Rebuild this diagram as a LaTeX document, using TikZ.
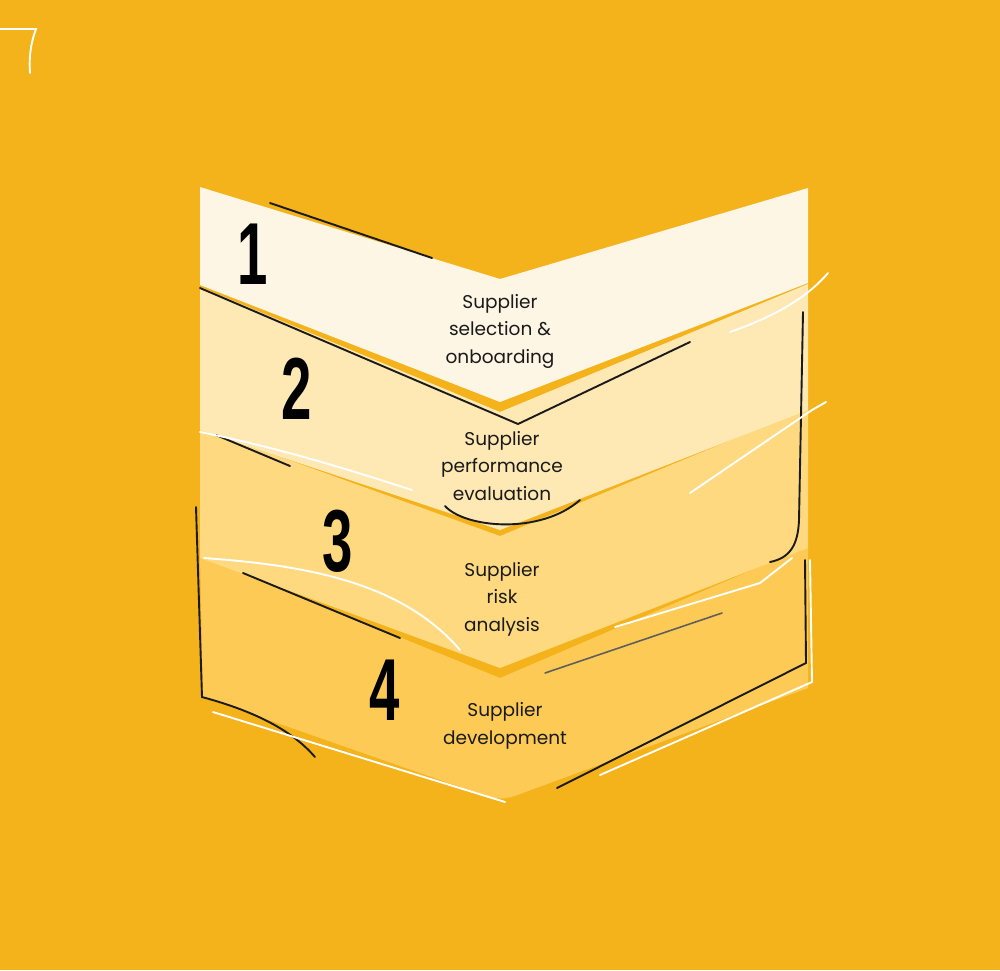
\documentclass[tikz,border=0pt]{standalone}
\usepackage{fontspec}
\usepackage{graphicx}
\setmainfont{Poppins}
\newfontfamily\numfont{Liberation Sans}
\definecolor{bg}{HTML}{F4B21B}
\definecolor{cA}{HTML}{FEF6E5}
\definecolor{cB}{HTML}{FEE8B3}
\definecolor{cC}{HTML}{FED97F}
\definecolor{cD}{HTML}{FDCB55}
\definecolor{ink}{HTML}{1A1A1A}
\tikzset{
  blk/.style={draw=ink, line width=1.9pt, line cap=round},
  gry/.style={draw=ink!70, line width=1.6pt, line cap=round},
  wht/.style={draw=white, line width=1.9pt, line cap=round},
  lbl/.style={align=center, font=\fontsize{18.5}{27.5}\selectfont, text=ink, inner sep=0pt},
  num/.style={inner sep=0pt, text=black, font=\numfont\bfseries\fontsize{88}{88}\selectfont}
}
\begin{document}
\begin{tikzpicture}[x=1pt,y=-1pt]
\useasboundingbox (0,0) rectangle (1000,970);
\fill[bg] (0,0) rectangle (1000,970);
% chevrons, bottom to top
\fill[cD] (200,556) -- (500,678) -- (808,546) -- (808,688) -- (520,794) .. controls (505,800) and (495,800) .. (480,794) -- (203,697) -- cycle;
\fill[cC] (200,428) -- (500,536) -- (808,408) -- (808,548) -- (500,668) -- (200,558) -- cycle;
\fill[cB] (200,287) -- (500,412) -- (808,284) -- (808,410) -- (500,530) -- (200,430) -- cycle;
\fill[cA] (200,187) -- (500,279) -- (808,188) -- (808,283) -- (500,402) -- (200,285) -- cycle;
% black sketch lines
\draw[blk] (270,203) -- (432,258);
\draw[blk] (200,288) -- (518,424) -- (690,342);
\draw[blk] (803,312) -- (799,520) .. controls (798,545) and (790,558) .. (770,562);
\draw[blk] (445,506) .. controls (465,528) and (540,535) .. (580,500);
\draw[blk] (216,435) -- (290,466);
\draw[blk] (243,573) -- (400,638);
\draw[gry] (545,673) -- (722,613);
\draw[blk] (196,507) -- (202,697) .. controls (250,710) and (290,728) .. (315,757);
\draw[blk] (805,560) -- (806,663) -- (557,788);
% white sketch lines
\draw[wht] (730,332) .. controls (770,318) and (805,300) .. (828,273);
\draw[wht] (200,432) .. controls (280,448) and (350,470) .. (412,490);
\draw[wht] (690,493) -- (812,410) -- (826,402);
\draw[wht] (204,558) .. controls (300,565) and (400,580) .. (460,650);
\draw[wht] (615,627) -- (760,583) -- (792,558);
\draw[wht] (213,712) -- (505,802);
\draw[wht] (810,560) -- (812,682) -- (600,775);
\draw[wht] (0,29) -- (36,29) .. controls (30,45) and (29,60) .. (30,73);
% numbers
\node[num] (n1) at (253,254) {\scalebox{0.62}[1]{1}};
\node[num] (n2) at (297,389) {\scalebox{0.62}[1]{2}};
\node[num] (n3) at (338,541) {\scalebox{0.62}[1]{3}};
\node[num] (n4) at (385,690) {\scalebox{0.62}[1]{4}};
% labels
\node[lbl] (t1) at (500,331) {Supplier\\selection \&\\onboarding};
\node[lbl] (t2) at (502,466) {Supplier\\performance\\evaluation};
\node[lbl] (t3) at (502,599) {Supplier\\risk\\analysis};
\node[lbl] (t4) at (505,726) {Supplier\\development};
\end{tikzpicture}
\end{document}
